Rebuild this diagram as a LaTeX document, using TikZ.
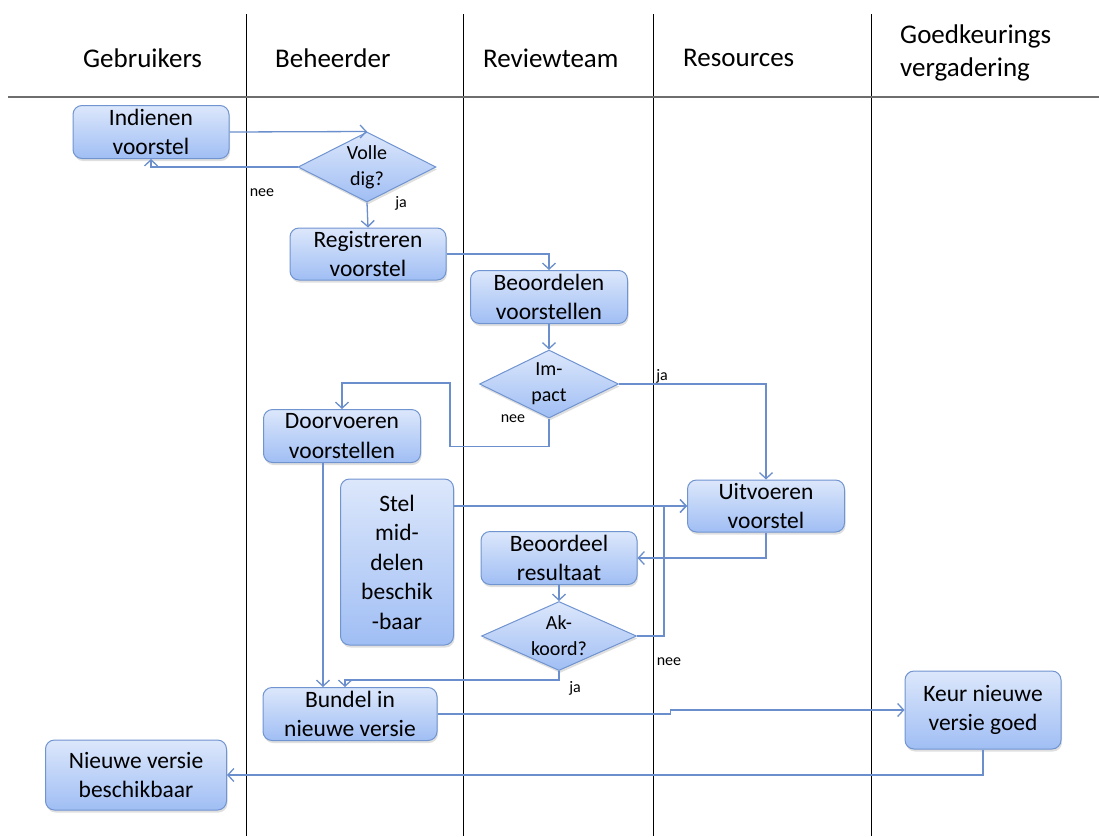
\documentclass[tikz,border=0pt]{standalone}
\usepackage{fontspec}
\setmainfont{Carlito}
\usetikzlibrary{shapes.geometric,arrows.meta,shadows}

\definecolor{boxtop}{RGB}{220,231,251}
\definecolor{boxbot}{RGB}{160,190,244}
\definecolor{boxline}{RGB}{112,148,208}
\definecolor{flowline}{RGB}{106,143,204}

\begin{document}
\begin{tikzpicture}[x=1pt,y=-1pt,
    lane/.style={draw=black,line width=0.8pt},
    head/.style={anchor=west,align=left,inner sep=0pt,font=\fontsize{27}{33}\selectfont},
    stap/.style={rectangle,rounded corners=9pt,draw=boxline,line width=1pt,
      top color=boxtop,bottom color=boxbot,inner sep=0pt,align=center,
      font=\fontsize{23.5}{29.5}\selectfont,
      drop shadow={opacity=0.25,shadow xshift=1pt,shadow yshift=-2.5pt}},
    keuze/.style={diamond,aspect=2,draw=boxline,line width=1pt,
      top color=boxtop,bottom color=boxbot,inner xsep=0pt,inner ysep=-5pt,
      align=center,font=\fontsize{20}{26}\selectfont,
      drop shadow={opacity=0.25,shadow xshift=1pt,shadow yshift=-2.5pt}},
    flow/.style={draw=flowline,line width=1.3pt,
      -{Straight Barb[length=6pt,width=13pt]}},
    lbl/.style={font=\fontsize{16}{18}\selectfont}]
  \useasboundingbox (0,0) rectangle (1099,836);

  \foreach \x in {246,463,653,871}
    \draw[lane] (\x,14) -- (\x,836);
  \draw[draw={rgb,255:red,110;green,110;blue,110},line width=2.8pt] (8,97) -- (1099,97);

  \node[head] (hgebr) at (83,58) {Gebruikers};
  \node[head] (hbeh) at (275,58) {Beheerder};
  \node[head] (hrev) at (483,58) {Reviewteam};
  \node[head] (hres) at (683,58) {Resources};
  \node[head] (hgoed) at (900,53) {Goedkeurings\\vergadering};

  \node[stap,minimum width=156,minimum height=53] (indienen) at (151,132) {Indienen\\voorstel};
  \node[keuze,minimum width=138,minimum height=70] (volle) at (367,167) {Volle\\dig?};
  \node[stap,minimum width=156,minimum height=52] (registreren) at (368,254) {Registreren\\voorstel};
  \node[stap,minimum width=157,minimum height=53] (beoordelen) at (549,297) {Beoordelen\\voorstellen};
  \node[keuze,minimum width=139,minimum height=68] (impact) at (549,384) {Im-\\pact};
  \node[stap,minimum width=157,minimum height=53] (doorvoeren) at (342,436) {Doorvoeren\\voorstellen};
  \node[stap,minimum width=113,minimum height=166] (stel) at (397,562) {Stel\\mid-\\delen\\beschik\\-baar};
  \node[stap,minimum width=157,minimum height=52] (uitvoeren) at (766,506) {Uitvoeren\\voorstel};
  \node[stap,minimum width=156,minimum height=53] (beoordeel) at (559,558) {Beoordeel\\resultaat};
  \node[keuze,minimum width=155,minimum height=69] (akkoord) at (559,636) {Ak-\\koord?};
  \node[stap,minimum width=174,minimum height=53] (bundel) at (350,714) {Bundel in\\nieuwe versie};
  \node[stap,minimum width=156,minimum height=78] (keur) at (983,710) {Keur nieuwe\\versie goed};
  \node[stap,minimum width=181,minimum height=70] (nieuwe) at (136,775) {Nieuwe versie\\beschikbaar};

  \coordinate (omweg) at (450,383);

  \draw[flow] (indienen.east) -- (volle.north);
  \draw[flow] (volle.west) -| (indienen.south);
  \draw[flow] (volle.south) -- (registreren.north);
  \draw[flow] (registreren.east) -| (beoordelen.north);
  \draw[flow] (beoordelen.south) -- (impact.north);
  \draw[flow] (impact.east) -| (uitvoeren.north);
  \draw[flow] (impact.south) -- ++(0,28) -| (omweg) -| (doorvoeren.north);
  \draw[flow] ([xshift=-19pt]doorvoeren.south) -- ([xshift=-19pt]doorvoeren.south |- bundel.north);
  \draw[flow] (stel.east |- uitvoeren.west) -- (uitvoeren.west);
  \draw[flow] (uitvoeren.south) |- (beoordeel.east);
  \draw[flow] (beoordeel.south) -- (akkoord.north);
  \draw[flow] (akkoord.east) -- ++(27,0) |- (uitvoeren.west);
  \draw[flow] (akkoord.south) -- ++(0,9) -| ([xshift=-5pt]bundel.north);
  \draw[flow] (bundel.east) -- ++(233,0) |- (keur.west);
  \draw[flow] (keur.south) |- (nieuwe.east);

  \node[lbl] (nee1) at (262,193) {nee};
  \node[lbl] (ja1) at (401,203) {ja};
  \node[lbl] (ja2) at (662,376) {ja};
  \node[lbl] (nee2) at (513,419) {nee};
  \node[lbl] (nee3) at (669,662) {nee};
  \node[lbl] (ja3) at (575,688) {ja};
\end{tikzpicture}
\end{document}
